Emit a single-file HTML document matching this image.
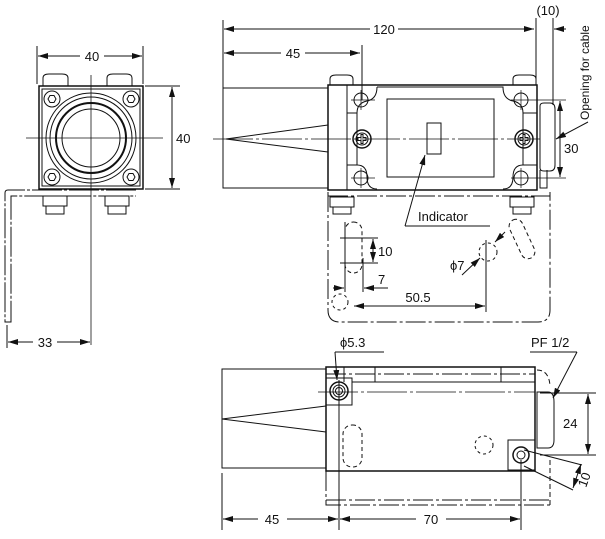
<!DOCTYPE html>
<html><head><meta charset="utf-8"><style>
html,body{margin:0;padding:0;background:#fff;}
svg{display:block;}
text{font-family:"Liberation Sans",sans-serif;font-size:13px;fill:#111;}
</style></head><body>
<svg width="605" height="539" viewBox="0 0 605 539" xmlns="http://www.w3.org/2000/svg">
<defs>
<marker id="a" viewBox="0 0 10 6" refX="10" refY="3" markerWidth="10" markerHeight="6" orient="auto-start-reverse" markerUnits="userSpaceOnUse"><path d="M0,0L10,3L0,6z" fill="#111"/></marker>
</defs>
<g fill="none" stroke="#111" stroke-width="1">
<!-- LEFT VIEW -->
<line x1="37" y1="46" x2="37" y2="84"/><line x1="143" y1="46" x2="143" y2="84"/>
<line x1="38" y1="56" x2="80" y2="56" marker-start="url(#a)"/><line x1="104" y1="56" x2="142" y2="56" marker-end="url(#a)"/>
<path d="M43,86 v-8 q0,-4 6,-4 h13 q6,0 6,4 v8 M107,86 v-8 q0,-4 6,-4 h13 q6,0 6,4 v8"/>
<rect x="39" y="86" width="104" height="103" stroke-width="1.5"/>
<rect x="42" y="89" width="98" height="97"/>
<circle cx="91" cy="138" r="45"/><circle cx="91" cy="138" r="41"/>
<circle cx="91" cy="138" r="35" stroke-width="2"/><circle cx="91" cy="138" r="29"/>
<g>
<circle cx="52" cy="99" r="8"/><polygon points="56,99 54,102.5 50,102.5 48,99 50,95.5 54,95.5"/>
<circle cx="131" cy="99" r="8"/><polygon points="135,99 133,102.5 129,102.5 127,99 129,95.5 133,95.5"/>
<circle cx="52" cy="177" r="8"/><polygon points="56,177 54,180.5 50,180.5 48,177 50,173.5 54,173.5"/>
<circle cx="131" cy="177" r="8"/><polygon points="135,177 133,180.5 129,180.5 127,177 129,173.5 133,173.5"/>
</g>
<line x1="91" y1="75" x2="91" y2="345" stroke-width="0.8"/>
<line x1="26" y1="138" x2="163" y2="138" stroke-width="0.8"/>
<line x1="145" y1="86" x2="180" y2="86"/><line x1="145" y1="189" x2="180" y2="189"/>
<line x1="172" y1="87" x2="172" y2="188" marker-start="url(#a)" marker-end="url(#a)"/>
<path d="M136,190 H8 q-3,0 -3,3 V322 H11 V196 H136" stroke-dasharray="30,2,3,2"/>
<rect x="43" y="196" width="24" height="10"/><rect x="46" y="206" width="18" height="8"/>
<rect x="105" y="196" width="24" height="10"/><rect x="108" y="206" width="18" height="8"/>
<line x1="7" y1="325" x2="7" y2="348"/>
<line x1="8" y1="342" x2="33" y2="342" marker-start="url(#a)"/><line x1="57" y1="342" x2="90" y2="342" marker-end="url(#a)"/>

<!-- TOP RIGHT VIEW -->
<line x1="223" y1="20" x2="223" y2="95"/>
<line x1="224" y1="29" x2="370" y2="29" marker-start="url(#a)"/><line x1="398" y1="29" x2="534" y2="29" marker-end="url(#a)"/>
<line x1="536" y1="18" x2="536" y2="85"/><line x1="553" y1="18" x2="553" y2="105"/>
<line x1="566" y1="29" x2="554" y2="29" marker-end="url(#a)"/>
<line x1="224" y1="53" x2="281" y2="53" marker-start="url(#a)"/><line x1="305" y1="53" x2="360" y2="53" marker-end="url(#a)"/>
<line x1="362" y1="45" x2="362" y2="100"/>
<path d="M328,88 H223 V188 H328"/>
<path d="M226,139 L328,125 M226,139 L328,152"/>
<path d="M330,85 v-6 q0,-4 6,-4 h11 q6,0 6,4 v6 M513,85 v-6 q0,-4 6,-4 h11 q6,0 6,4 v6"/>
<rect x="328" y="85" width="209" height="105" stroke-width="1.5"/>
<line x1="347" y1="85" x2="347" y2="190"/>
<path d="M377,87 H503 q0,12 10,14 q10,2 10,12 H537 M377,87 q0,12 -10,14 q-10,2 -10,12 H347" />
<path d="M347,165 H357 q10,0 10,12 q0,12 10,12 M537,165 H523 q-10,0 -10,12 q0,12 -10,12"/>
<line x1="357" y1="113" x2="357" y2="165"/><line x1="523" y1="113" x2="523" y2="165"/>
<rect x="387" y="99" width="107" height="78"/>
<rect x="427" y="123" width="14" height="31"/>
<circle cx="362" cy="139" r="9" stroke-width="1.5"/><circle cx="362" cy="139" r="6"/>
<path d="M358,137.5h3v-3h2v3h3v3h-3v3h-2v-3h-3z"/>
<circle cx="524" cy="139" r="9" stroke-width="1.5"/><circle cx="524" cy="139" r="6"/>
<path d="M520,137.5h3v-3h2v3h3v3h-3v3h-2v-3h-3z"/>
<circle cx="361" cy="100" r="7"/><circle cx="521" cy="100" r="7"/>
<circle cx="361" cy="178" r="7"/><circle cx="521" cy="178" r="7"/>
<line x1="351" y1="100" x2="375" y2="100" stroke-width="0.7"/><line x1="361" y1="90" x2="361" y2="110" stroke-width="0.7"/>
<line x1="511" y1="100" x2="566" y2="100" stroke-width="0.7"/><line x1="521" y1="90" x2="521" y2="110" stroke-width="0.7"/>
<line x1="351" y1="178" x2="375" y2="178" stroke-width="0.7"/><line x1="361" y1="168" x2="361" y2="188" stroke-width="0.7"/>
<line x1="511" y1="178" x2="566" y2="178" stroke-width="0.7"/><line x1="521" y1="168" x2="521" y2="188" stroke-width="0.7"/>
<line x1="213" y1="139" x2="540" y2="139" stroke-width="0.8" stroke-dasharray="40,3,3,3"/>
<path d="M540,106 q0,-3 4,-3 h6 q5,0 5,6 v56 q0,6 -5,6 h-6 q-4,0 -4,-3z"/>
<path d="M540,170 v18 h7 v-18"/>
<line x1="560" y1="101" x2="560" y2="177" marker-start="url(#a)" marker-end="url(#a)"/>
<line x1="588" y1="122" x2="556" y2="139" marker-end="url(#a)"/>
<path d="M328,192 V310 q0,12 12,12 H538 q12,0 12,-12 V192" stroke-dasharray="20,3,3,3"/>
<line x1="328" y1="196" x2="550" y2="196" stroke-dasharray="20,3,3,3"/>
<rect x="330" y="197" width="24" height="10"/><rect x="333" y="207" width="18" height="7"/>
<rect x="510" y="197" width="24" height="10"/><rect x="513" y="207" width="18" height="7"/>
<path d="M405,226 L425,155" marker-end="url(#a)"/><line x1="405" y1="226" x2="490" y2="226"/>
<rect x="345" y="222" width="17" height="51" rx="8.5" stroke-dasharray="4,3"/>
<line x1="340" y1="238" x2="378" y2="238"/><line x1="340" y1="263" x2="378" y2="263"/>
<line x1="373" y1="239" x2="373" y2="262" marker-start="url(#a)" marker-end="url(#a)"/>
<line x1="345" y1="222" x2="345" y2="292"/><line x1="363" y1="258" x2="363" y2="292"/>
<line x1="333" y1="288" x2="344" y2="288" marker-end="url(#a)"/><line x1="388" y1="288" x2="364" y2="288" marker-end="url(#a)"/>
<circle cx="340" cy="302" r="8" stroke-dasharray="3,3"/>
<line x1="354" y1="306" x2="485" y2="306" marker-start="url(#a)" marker-end="url(#a)"/>
<line x1="486" y1="240" x2="486" y2="312"/>
<circle cx="488" cy="252" r="9" stroke-dasharray="3,3"/>
<line x1="462" y1="275" x2="480" y2="258" marker-end="url(#a)"/><line x1="505" y1="232" x2="495" y2="242" marker-end="url(#a)"/>
<rect x="515" y="218" width="14" height="42" rx="7" transform="rotate(-25 522 239)" stroke-dasharray="4,3"/>

<!-- BOTTOM VIEW -->
<path d="M326,369 H222 V468 H326"/>
<path d="M222,419 L326,406 M222,419 L326,432"/>
<rect x="326" y="367" width="209" height="104" stroke-width="1.5"/>
<line x1="352" y1="382" x2="535" y2="382"/>
<line x1="344" y1="367" x2="344" y2="382"/><line x1="375" y1="367" x2="375" y2="382"/><line x1="501" y1="367" x2="501" y2="382"/>
<line x1="326" y1="374" x2="535" y2="374" stroke-dasharray="20,3,3,3"/>
<path d="M326,378 H352 V405 H326"/>
<circle cx="339" cy="391" r="9" stroke-width="1.5"/><circle cx="339" cy="391" r="6"/><circle cx="339" cy="391" r="3.5"/>
<line x1="318" y1="392" x2="535" y2="392" stroke-dasharray="40,3,3,3" stroke-width="0.8"/>
<line x1="339" y1="380" x2="339" y2="530"/>
<line x1="335" y1="352" x2="384" y2="352"/><line x1="335" y1="352" x2="337" y2="380" marker-end="url(#a)"/>
<path d="M326,471 V505 H550" stroke-dasharray="20,3,3,3"/>
<line x1="326" y1="500" x2="550" y2="500" stroke-dasharray="20,3,3,3"/>
<path d="M537,370 q12,0 13,16 M550,460 V505" stroke-dasharray="5,3"/>
<rect x="343" y="425" width="19" height="42" rx="9" stroke-dasharray="4,3"/>
<circle cx="484" cy="445" r="9" stroke-dasharray="3,3"/>
<path d="M537,392 H548 q6,0 6,10 v38 q0,8 -6,8 H537z"/>
<path d="M508,440 H535 V470 H508z"/>
<circle cx="521" cy="455" r="8" stroke-width="1.5"/><circle cx="521" cy="455" r="4"/>
<line x1="540" y1="393" x2="596" y2="393"/><line x1="540" y1="455" x2="596" y2="455"/>
<line x1="588" y1="394" x2="588" y2="454" marker-start="url(#a)" marker-end="url(#a)"/>
<line x1="524" y1="450" x2="582" y2="465"/><line x1="524" y1="466" x2="573" y2="490"/>
<line x1="581" y1="464" x2="573" y2="488" marker-start="url(#a)" marker-end="url(#a)"/>
<line x1="530" y1="352" x2="577" y2="352"/><line x1="577" y1="352" x2="553" y2="398" marker-end="url(#a)"/>
<line x1="222" y1="473" x2="222" y2="530"/><line x1="521" y1="460" x2="521" y2="530"/>
<line x1="223" y1="519" x2="258" y2="519" marker-start="url(#a)"/><line x1="287" y1="519" x2="338" y2="519" marker-end="url(#a)"/>
<line x1="340" y1="519" x2="416" y2="519" marker-start="url(#a)"/><line x1="446" y1="519" x2="520" y2="519" marker-end="url(#a)"/>
</g>
<text x="92" y="61" text-anchor="middle">40</text>
<text x="176" y="143">40</text>
<text x="45" y="347" text-anchor="middle">33</text>
<text x="384" y="34" text-anchor="middle">120</text>
<text x="548" y="15" text-anchor="middle">(10)</text>
<text x="293" y="58" text-anchor="middle">45</text>
<text x="564" y="153">30</text>
<text transform="translate(589,120) rotate(-90)" style="font-size:12px">Opening for cable</text>
<text x="418" y="221">Indicator</text>
<text x="378" y="256">10</text>
<text x="378" y="284">7</text>
<text x="418" y="302" text-anchor="middle">50.5</text>
<text x="450" y="270">ϕ7</text>
<text x="340" y="347">ϕ5.3</text>
<text x="531" y="347">PF 1/2</text>
<text x="563" y="428">24</text>
<text transform="translate(586,488) rotate(-70)">10</text>
<text x="272" y="524" text-anchor="middle">45</text>
<text x="431" y="524" text-anchor="middle">70</text>
</svg>
</body></html>
